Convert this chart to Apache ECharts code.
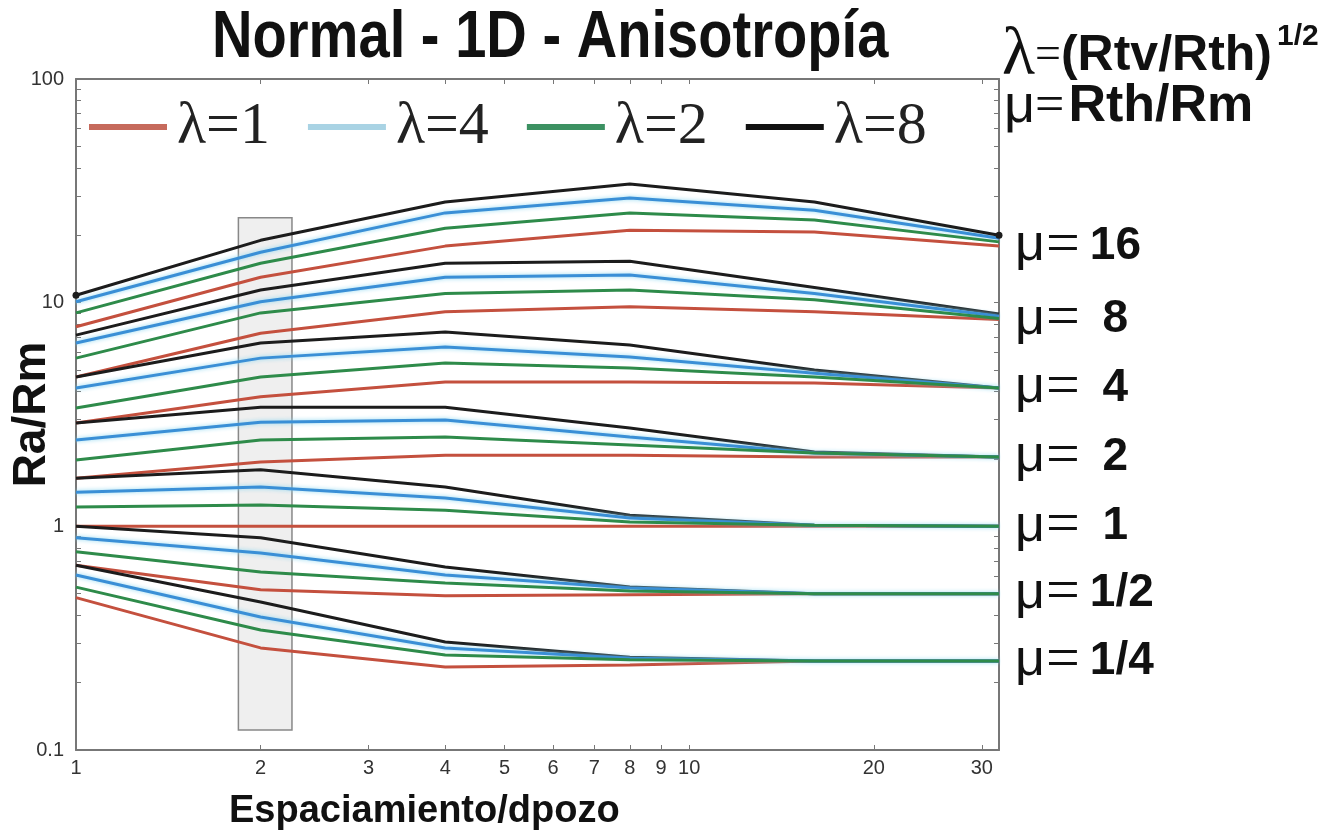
<!DOCTYPE html>
<html><head><meta charset="utf-8">
<script src="https://cdn.jsdelivr.net/npm/echarts@6/dist/echarts.min.js"></script>
<style>html,body{margin:0;padding:0;background:#fff}#c{width:1338px;height:838px}</style>
</head><body><div id="c"></div>
<script>
// spacing / well diameter
const xValues = [1, 2, 4, 8, 16, 32];
// group labels (mu = Rth/Rm), top to bottom
const muLabels = ['16', ' 8', ' 4', ' 2', ' 1', '1/2', '1/4'];
// Ra/Rm values per mu group (rows) for each lambda
const lambda1 = [
  [7.8, 13.0, 17.9, 21.1, 20.7, 17.9],
  [4.65, 7.3, 9.1, 9.6, 9.1, 8.4],
  [2.9, 3.8, 4.42, 4.42, 4.37, 4.15],
  [1.64, 1.94, 2.08, 2.08, 2.04, 2.04],
  [1.0, 1.0, 1.0, 1.0, 1.0, 1.0],
  [0.67, 0.52, 0.49, 0.495, 0.5, 0.5],
  [0.48, 0.286, 0.235, 0.24, 0.25, 0.25]
];
const lambda2 = [
  [9.0, 15.0, 21.5, 25.2, 23.4, 18.7],
  [5.65, 9.0, 11.0, 11.4, 10.3, 8.5],
  [3.38, 4.65, 5.37, 5.1, 4.65, 4.15],
  [1.98, 2.43, 2.51, 2.31, 2.13, 2.04],
  [1.22, 1.245, 1.18, 1.045, 1.01, 1.0],
  [0.77, 0.625, 0.558, 0.514, 0.5, 0.5],
  [0.535, 0.344, 0.266, 0.253, 0.25, 0.25]
];
const lambda4 = [
  [10.1, 16.8, 25.2, 29.4, 25.9, 19.4],
  [6.6, 10.1, 13.0, 13.3, 11.0, 8.7],
  [4.15, 5.65, 6.33, 5.71, 4.84, 4.15],
  [2.43, 2.92, 2.99, 2.51, 2.13, 2.04],
  [1.42, 1.5, 1.34, 1.09, 1.01, 1.0],
  [0.89, 0.76, 0.606, 0.53, 0.5, 0.5],
  [0.606, 0.393, 0.286, 0.257, 0.25, 0.25]
];
const lambda8 = [
  [10.8, 19.0, 28.2, 33.9, 28.2, 20.0],
  [7.16, 11.4, 15.0, 15.3, 11.7, 8.9],
  [4.65, 6.6, 7.39, 6.46, 5.0, 4.15],
  [2.9, 3.41, 3.41, 2.75, 2.15, 2.04],
  [1.64, 1.79, 1.5, 1.12, 1.01, 1.0],
  [1.0, 0.89, 0.658, 0.535, 0.5, 0.5],
  [0.67, 0.459, 0.304, 0.26, 0.25, 0.25]
];
const xTickLabels = [1, 2, 3, 4, 5, 6, 7, 8, 9, 10, 20, 30];
const yTickLabels = [0.1, 1, 10, 100];
const yMinorTicks = [0.1,0.2,0.3,0.4,0.5,0.6,0.7,0.8,0.9,1,2,3,4,5,6,7,8,9,10,20,30,40,50,60,70,80,90,100];
const highlightX = [1.84, 2.25];
const highlightY = [0.123, 24];

const sans = "'Liberation Sans', Arial, sans-serif";
const serif = "'Liberation Serif', 'Times New Roman', serif";

const styles = [
  {name: 'λ=1', data: lambda1, color: '#c4503e', z: 2},
  {name: 'λ=8', data: lambda8, color: '#1c1c1c', z: 3},
  {name: 'λ=4', data: lambda4, color: '#3a8fd6', z: 4, glow: true},
  {name: 'λ=2', data: lambda2, color: '#2e8b4a', z: 5}
];

const series = [];
styles.forEach(s => {
  s.data.forEach((row, g) => {
    const dotted = (s.name === 'λ=8' && g === 0);
    const ser = {
      type: 'line', name: s.name, xAxisIndex: 0, yAxisIndex: 0,
      data: xValues.map((x, i) => {
        if (dotted && (i === 0 || i === xValues.length - 1)) {
          return {value: [x, row[i]], symbol: 'circle', symbolSize: 7};
        }
        return [x, row[i]];
      }),
      showSymbol: dotted, symbol: 'none', z: dotted ? 6 : s.z,
      lineStyle: {color: s.color, width: 3},
      itemStyle: {color: s.color},
      emphasis: {disabled: true}
    };
    if (s.glow) {
      ser.lineStyle.shadowColor = 'rgba(140,215,240,0.95)';
      ser.lineStyle.shadowBlur = 4;
    }
    if (s.name === 'λ=1') {
      ser.endLabel = {
        show: true, distance: 16,
        formatter: '{m|μ}{e|=}{n|' + muLabels[g] + '}',
        rich: {
          m: {fontFamily: sans, fontSize: 52, color: '#111'},
          e: {fontFamily: serif, fontSize: 60, color: '#111', padding: [0, 10, 0, 1]},
          n: {fontFamily: sans, fontSize: 46, fontWeight: 'bold', color: '#111'}
        }
      };
    }
    series.push(ser);
  });
});
series.push({
  type: 'line', name: 'box', data: [], z: 8, silent: true,
  markArea: {
    silent: true,
    itemStyle: {color: 'rgba(215,215,215,0.4)', borderColor: '#888', borderWidth: 1.5},
    data: [[{xAxis: highlightX[0], yAxis: highlightY[1]}, {xAxis: highlightX[1], yAxis: highlightY[0]}]]
  }
});

const chart = echarts.init(document.getElementById('c'), null, {renderer: 'canvas'});
chart.setOption({
  animation: false,
  backgroundColor: '#fff',
  title: [
    {text: 'Espaciamiento/dpozo', left: 224, top: 788,
     textStyle: {fontFamily: sans, fontWeight: 'bold', fontSize: 38, color: '#111'}}
  ],
  graphic: [
    {type: 'text', x: 212, y: 6, scaleX: 0.85, silent: true,
     style: {text: 'Normal - 1D - Anisotropía', fontFamily: sans, fontWeight: 'bold', fontSize: 66,
             fill: '#111', textAlign: 'left', textVerticalAlign: 'top'}},
    {type: 'text', x: 1002, y: 22, silent: true,
     style: {text: '{l|λ}{e|=}{p|(Rtv/Rth)}{s|1/2}', textAlign: 'left', textVerticalAlign: 'top',
       rich: {
         l: {fontFamily: serif, fontSize: 68, fill: '#111'},
         e: {fontFamily: serif, fontSize: 46, fill: '#111', padding: [0, 0, 0, 0]},
         p: {fontFamily: sans, fontWeight: 'bold', fontSize: 50, fill: '#111'},
         s: {fontFamily: sans, fontWeight: 'bold', fontSize: 30, fill: '#111', verticalAlign: 'top', padding: [0, 0, 34, 5]}
       }}},
    {type: 'text', x: 1004, y: 80, silent: true,
     style: {text: '{m|μ}{e|=}{p|Rth/Rm}', textAlign: 'left', textVerticalAlign: 'top',
       rich: {
         m: {fontFamily: sans, fontSize: 54, fill: '#111'},
         e: {fontFamily: serif, fontSize: 52, fill: '#111', padding: [0, 4, 0, 0]},
         p: {fontFamily: sans, fontWeight: 'bold', fontSize: 52, fill: '#111'}
       }}}
  ],
  legend: {
    left: 84, top: 92, itemWidth: 78, itemHeight: 6, itemGap: 38, icon: 'rect',
    selectedMode: false,
    data: [
      {name: 'λ=1', itemStyle: {color: '#c66a5c'}},
      {name: 'λ=4', itemStyle: {color: '#a9d3e4'}},
      {name: 'λ=2', itemStyle: {color: '#3c9162'}},
      {name: 'λ=8', itemStyle: {color: '#111'}}
    ],
    textStyle: {fontFamily: serif, fontSize: 60, color: '#222', padding: [0, 0, 0, 5]}
  },
  grid: {left: 76, right: 339, top: 79, bottom: 88, containLabel: false, outerBoundsMode: 'none'},
  xAxis: [
    {type: 'log', logBase: 10, min: 1, max: 32, position: 'bottom',
     axisLine: {lineStyle: {color: '#777', width: 2}},
     axisTick: {show: true, inside: true, length: 5, customValues: xTickLabels, lineStyle: {color: '#777'}},
     axisLabel: {customValues: xTickLabels, margin: 8, fontFamily: sans, fontSize: 20, color: '#333'},
     splitLine: {show: false}, minorTick: {show: false}},
    {type: 'log', logBase: 10, min: 1, max: 32, position: 'top',
     axisLine: {lineStyle: {color: '#777', width: 2}},
     axisTick: {show: true, inside: true, length: 5, customValues: xTickLabels, lineStyle: {color: '#777'}},
     axisLabel: {show: false}, splitLine: {show: false}}
  ],
  yAxis: [
    {type: 'log', logBase: 10, min: 0.1, max: 100, position: 'left',
     name: 'Ra/Rm', nameLocation: 'middle', nameGap: 21, nameRotate: 90, nameMoveOverlap: false,
     nameTextStyle: {fontFamily: sans, fontWeight: 'bold', fontSize: 46, color: '#111'},
     axisLine: {lineStyle: {color: '#777', width: 2}},
     axisTick: {show: true, inside: true, length: 5, customValues: yMinorTicks, lineStyle: {color: '#777'}},
     axisLabel: {customValues: yTickLabels, margin: 12, fontFamily: sans, fontSize: 20, color: '#333'},
     splitLine: {show: false}},
    {type: 'log', logBase: 10, min: 0.1, max: 100, position: 'right',
     axisLine: {lineStyle: {color: '#777', width: 2}},
     axisTick: {show: true, inside: true, length: 5, customValues: yMinorTicks, lineStyle: {color: '#777'}},
     axisLabel: {show: false}, splitLine: {show: false}}
  ],
  series: series
});
</script></body></html>
